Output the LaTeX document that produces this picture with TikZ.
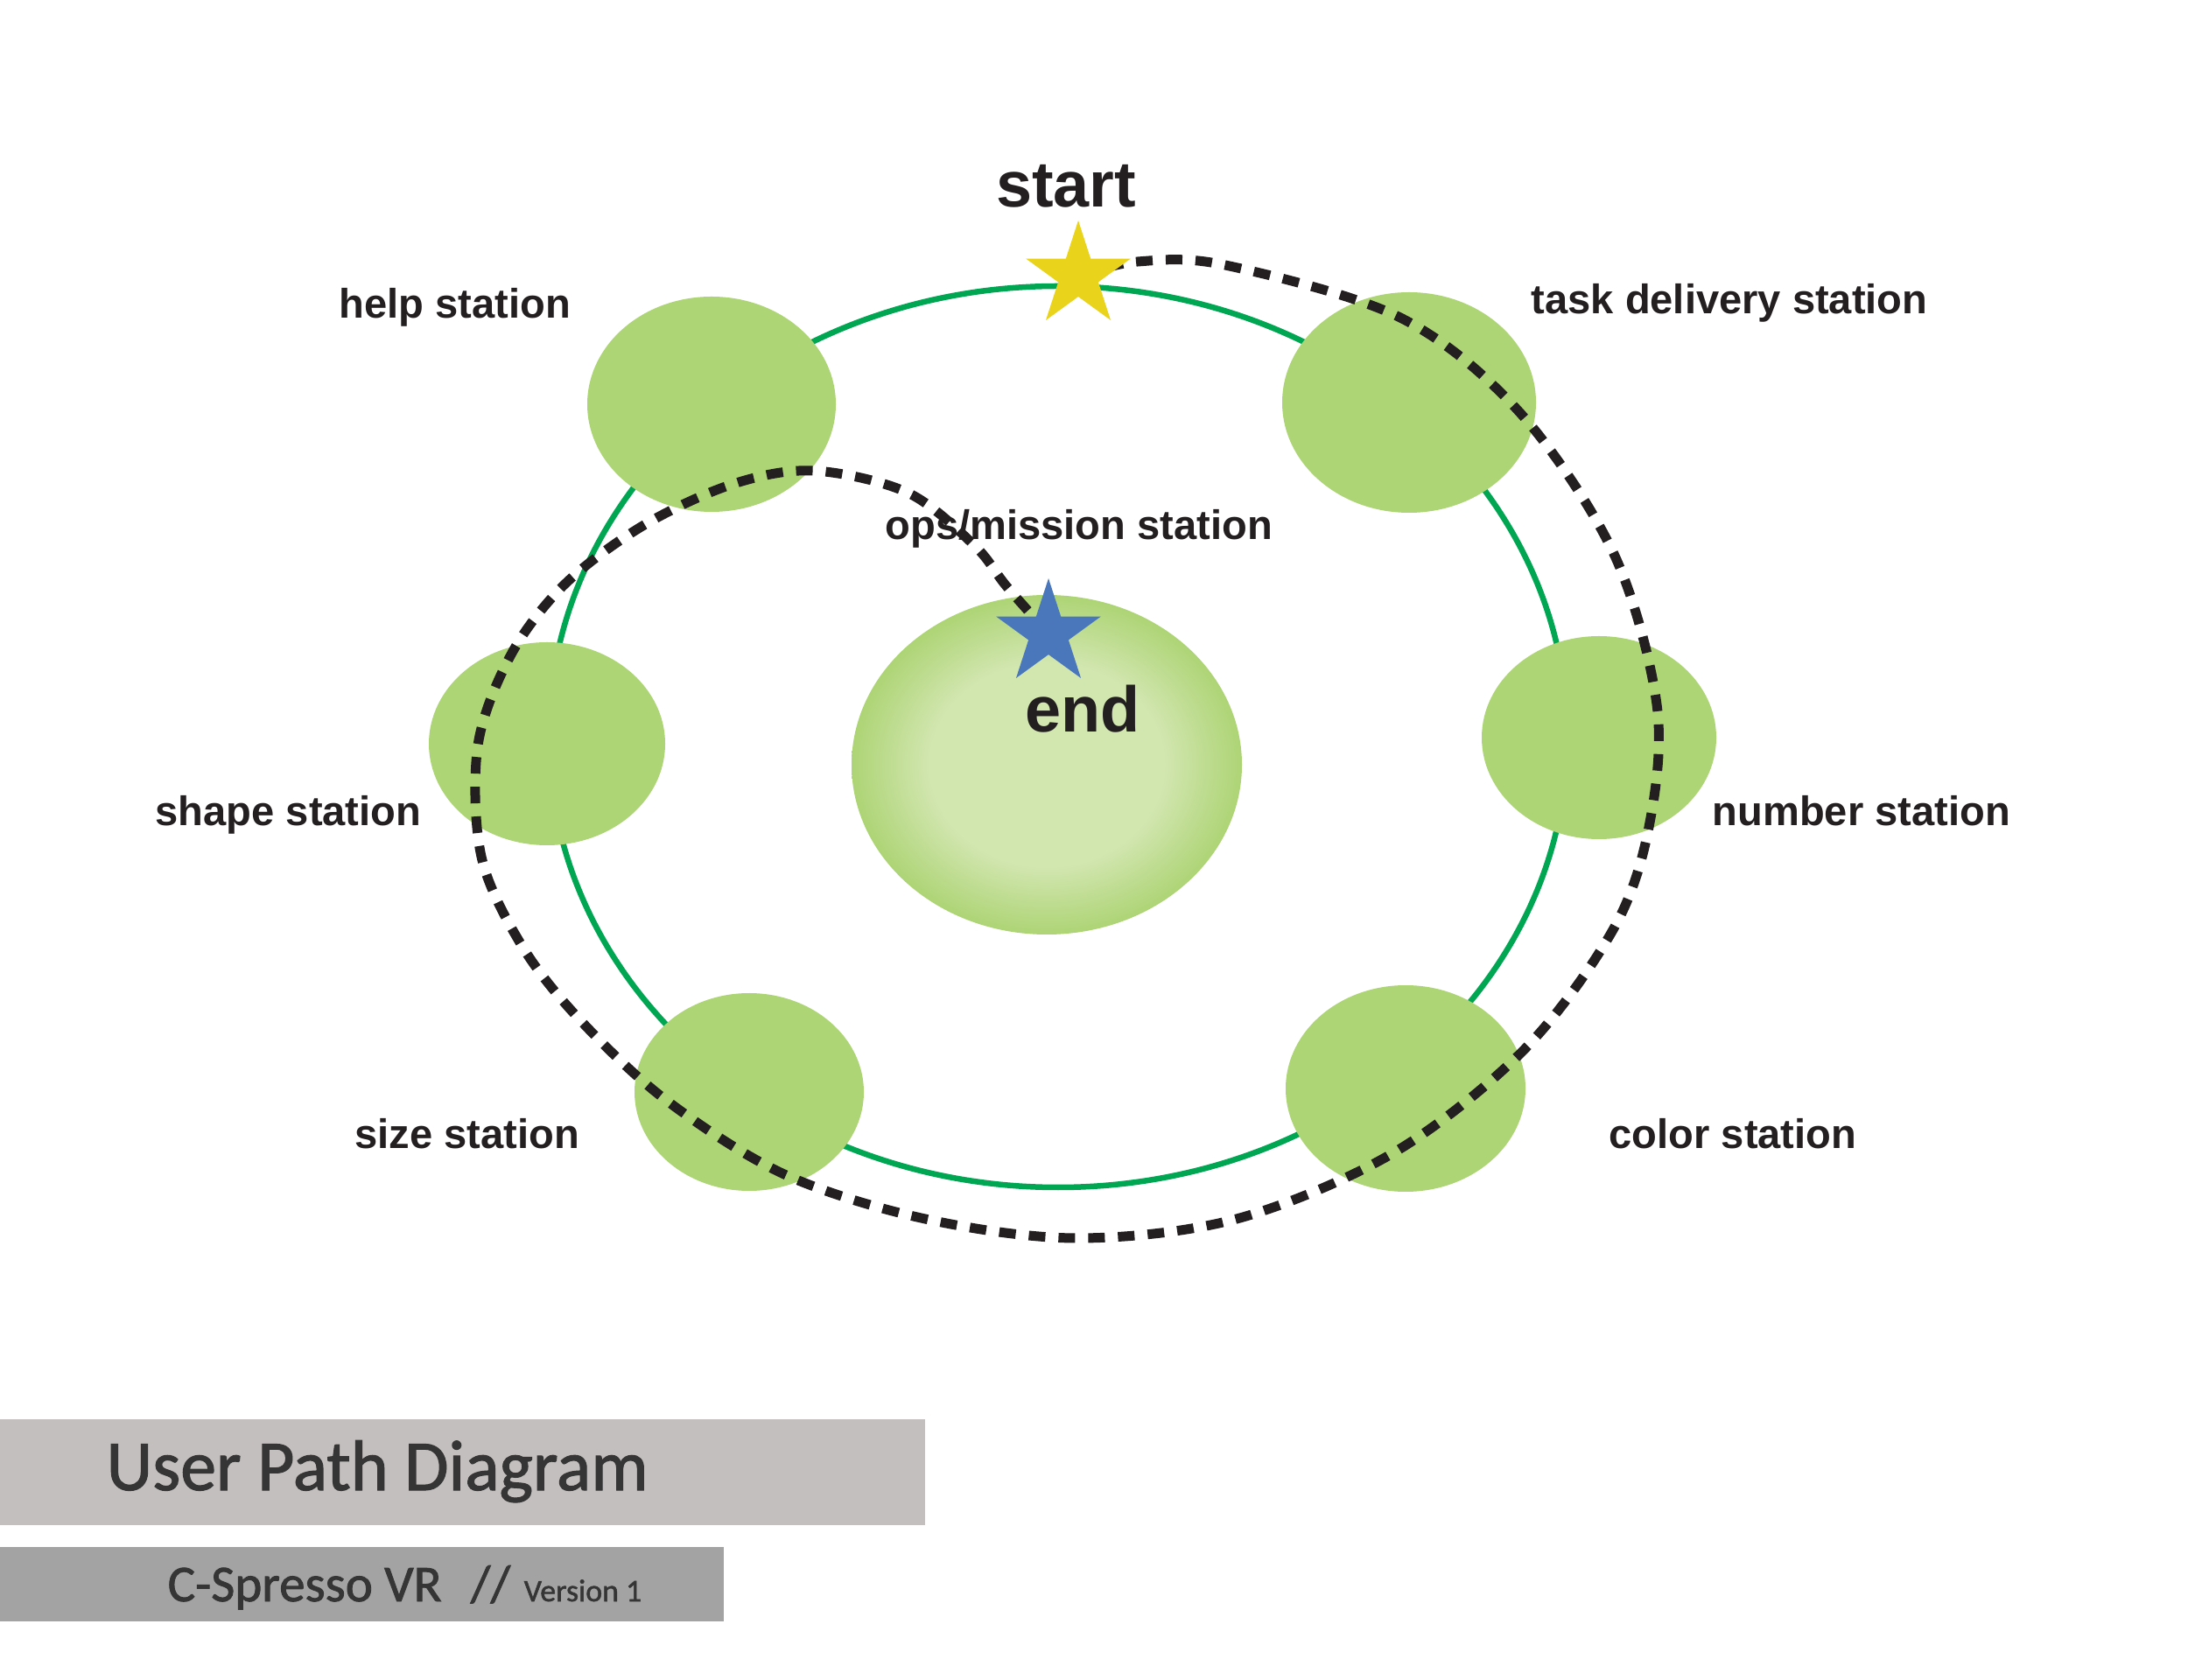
\documentclass[tikz,border=0pt]{standalone}
\usepackage{fontspec}
\setmainfont{Liberation Sans}
\newfontfamily\barfont[FakeBold=1.4]{Carlito}
\usepackage{tikz}
\usetikzlibrary{shapes.geometric}

\definecolor{stationgreen}{HTML}{ADD475}
\definecolor{glowgreen}{HTML}{D2E6B0}
\definecolor{orbitgreen}{HTML}{00A651}
\definecolor{pathblack}{HTML}{231F20}
\definecolor{startyellow}{HTML}{E9D31B}
\definecolor{endblue}{HTML}{4A77BC}
\definecolor{titlegray}{HTML}{C2BFBE}
\definecolor{subgray}{HTML}{A3A3A3}
\definecolor{bartext}{HTML}{353535}

\pgfdeclareradialshading{opsglow}{\pgfpoint{0bp}{0bp}}{color(0bp)=(glowgreen); color(15bp)=(glowgreen); color(25bp)=(stationgreen); color(50bp)=(stationgreen)}

\begin{document}
\begin{tikzpicture}[
    station/.style={ellipse, fill=stationgreen, inner sep=0pt},
    stationlabel/.style={anchor=base west, inner sep=0pt, text=pathblack, font=\fontsize{13.4}{16}\selectfont\bfseries},
    bigword/.style={anchor=base, inner sep=0pt, text=pathblack, font=\fontsize{21}{25}\selectfont\bfseries},
    markstar/.style={star, star points=5, star point ratio=2.618, inner sep=0pt, minimum size=1.26cm},
    orbit/.style={orbitgreen, line width=0.65mm},
    userpath/.style={pathblack, line width=1.1mm, dash pattern=on 1.9mm off 1.5mm}
  ]
    % Page size
    \useasboundingbox (0,0) rectangle (25,19.19);

    \def\ox{12.09} % orbit centre x
    \def\oy{10.77} % orbit centre y

    % Draw the orbit
    \draw[orbit] (\ox,\oy) ellipse (5.82cm and 5.15cm);

    % Draw the stations
    \node[station, minimum width=2.84cm, minimum height=2.46cm] (help) at (8.13,14.57) {};
    \node[station, minimum width=2.90cm, minimum height=2.52cm] (task) at (16.10,14.59) {};
    \node[station, minimum width=2.68cm, minimum height=2.32cm] (number) at (18.27,10.76) {};
    \node[station, minimum width=2.74cm, minimum height=2.36cm] (color) at (16.06,6.75) {};
    \node[station, minimum width=2.62cm, minimum height=2.26cm] (size) at (8.56,6.71) {};
    \node[station, minimum width=2.70cm, minimum height=2.32cm] (shape) at (6.25,10.69) {};
    \node[ellipse, inner sep=0pt, shading=opsglow, minimum width=4.46cm, minimum height=3.88cm] (ops) at (11.96,10.45) {};

    % Start and end markers
    \coordinate (yc) at (12.32,16.04);
    \coordinate (bc) at (11.98,11.95);

    % Draw the user path
    \draw[userpath] plot[smooth, tension=0.55] coordinates {(yc) (13.00,16.20) (14.00,16.16) (16.00,15.56)
      (17.37,14.47) (18.44,12.86) (18.93,11.14) (18.85,9.79) (18.45,8.60) (17.43,7.21) (15.93,6.02)
      (14.13,5.26) (12.31,5.04) (10.57,5.26) (8.96,5.77) (7.62,6.61) (6.64,7.52) (5.97,8.37) (5.50,9.40)
      (5.46,10.67) (5.84,11.71) (6.46,12.52) (7.36,13.19) (8.38,13.66) (9.30,13.81) (10.37,13.56)
      (11.13,12.96) (11.50,12.49) (bc)};

    \node[markstar, fill=startyellow] (yst) at (yc) {};
    \node[markstar, fill=endblue] (bst) at (bc) {};

    % Labels
    \node[bigword] (startlbl) at (12.18,16.82) {start};
    \node[bigword] (endlbl) at (12.37,10.82) {end};
    \node[stationlabel] (helplbl) at (3.87,15.55) {help station};
    \node[stationlabel] (tasklbl) at (17.49,15.60) {task delivery station};
    \node[stationlabel] (opslbl) at (10.11,13.02) {ops/mission station};
    \node[stationlabel] (shapelbl) at (1.77,9.75) {shape station};
    \node[stationlabel] (numberlbl) at (19.56,9.75) {number station};
    \node[stationlabel] (sizelbl) at (4.05,6.07) {size station};
    \node[stationlabel] (colorlbl) at (18.38,6.07) {color station};

    % Title bars
    \fill[titlegray] (0,1.76) rectangle (10.57,2.97);
    \fill[subgray] (0,0.66) rectangle (8.27,1.51);
    \node[anchor=base west, inner sep=0pt, text=bartext, font=\barfont\fontsize{23.3}{28}\selectfont] (title) at (1.21,2.16) {User Path Diagram};
    \node[anchor=base west, inner sep=0pt, text=bartext, font=\barfont\fontsize{16.8}{20}\selectfont] (sub) at (1.91,0.89) {C-Spresso VR};
    \node[anchor=base west, inner sep=0pt, text=bartext, font=\barfont\fontsize{16.8}{20}\selectfont] (slash) at (5.37,0.89) {//};
    \node[anchor=base west, inner sep=0pt, text=bartext, font=\barfont\fontsize{10.2}{12}\selectfont] (version) at (5.98,0.89) {Version 1};
\end{tikzpicture}
\end{document}
